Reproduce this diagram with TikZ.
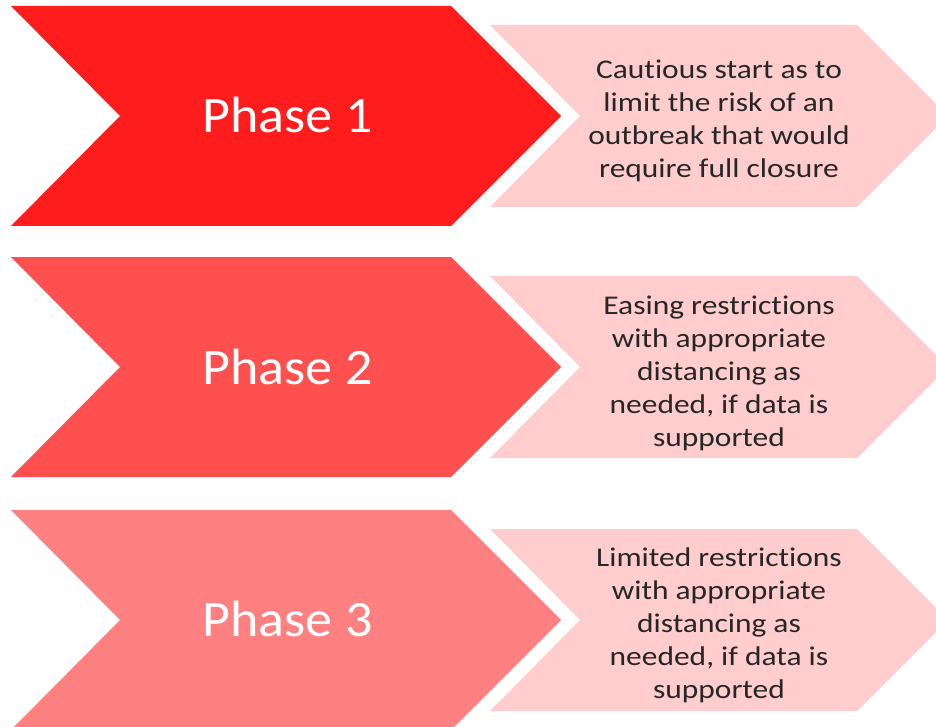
\documentclass[tikz,border=0pt]{standalone}
\usepackage{fontspec}
\setmainfont{Carlito}[Ligatures={NoCommon}]
\newfontfamily\phasefont{Carlito}[FakeStretch=1.06,Ligatures={NoCommon}]
\newfontfamily\descfont{Carlito}[FakeStretch=1.165,Ligatures={NoCommon}]
\definecolor{redA}{RGB}{255,28,28}
\definecolor{redB}{RGB}{255,80,80}
\definecolor{redC}{RGB}{255,128,128}
\definecolor{pinkL}{RGB}{255,205,205}
\begin{document}
\begin{tikzpicture}[x=1pt,y=-1pt,
  phasetext/.style={text=white,font=\phasefont\fontsize{51}{60}\selectfont,anchor=base,inner sep=0pt},
  desctext/.style={text=black!85,font=\descfont\fontsize{27}{33}\selectfont,align=center,inner sep=0pt}]
\useasboundingbox (0,0) rectangle (936,727);
\clip (0,0) rectangle (936,727);
\foreach \t/\c in {6/redA,257/redB,510/redC}{
  \fill[\c] (11,\t) -- (451,\t) -- (561,\t+110) -- (451,\t+220) -- (11,\t+220) -- (120,\t+110) -- cycle;
  \fill[pinkL] (490,\t+19) -- (857,\t+19) -- (948,\t+110) -- (857,\t+201) -- (490,\t+201) -- (580,\t+110) -- cycle;
}
\node[phasetext] (p1) at (287.5,133) {Phase 1};
\node[phasetext] (p2) at (287.5,384) {Phase 2};
\node[phasetext] (p3) at (287.5,636) {Phase 3};
\node[desctext] (d1) at (719,121) {Cautious start as to\\limit the risk of an\\outbreak that would\\require full closure};
\node[desctext] (d2) at (719,373) {Easing restrictions\\with appropriate\\distancing as\\needed, if data is\\supported};
\node[desctext] (d3) at (719,625) {Limited restrictions\\with appropriate\\distancing as\\needed, if data is\\supported};
\end{tikzpicture}
\end{document}
